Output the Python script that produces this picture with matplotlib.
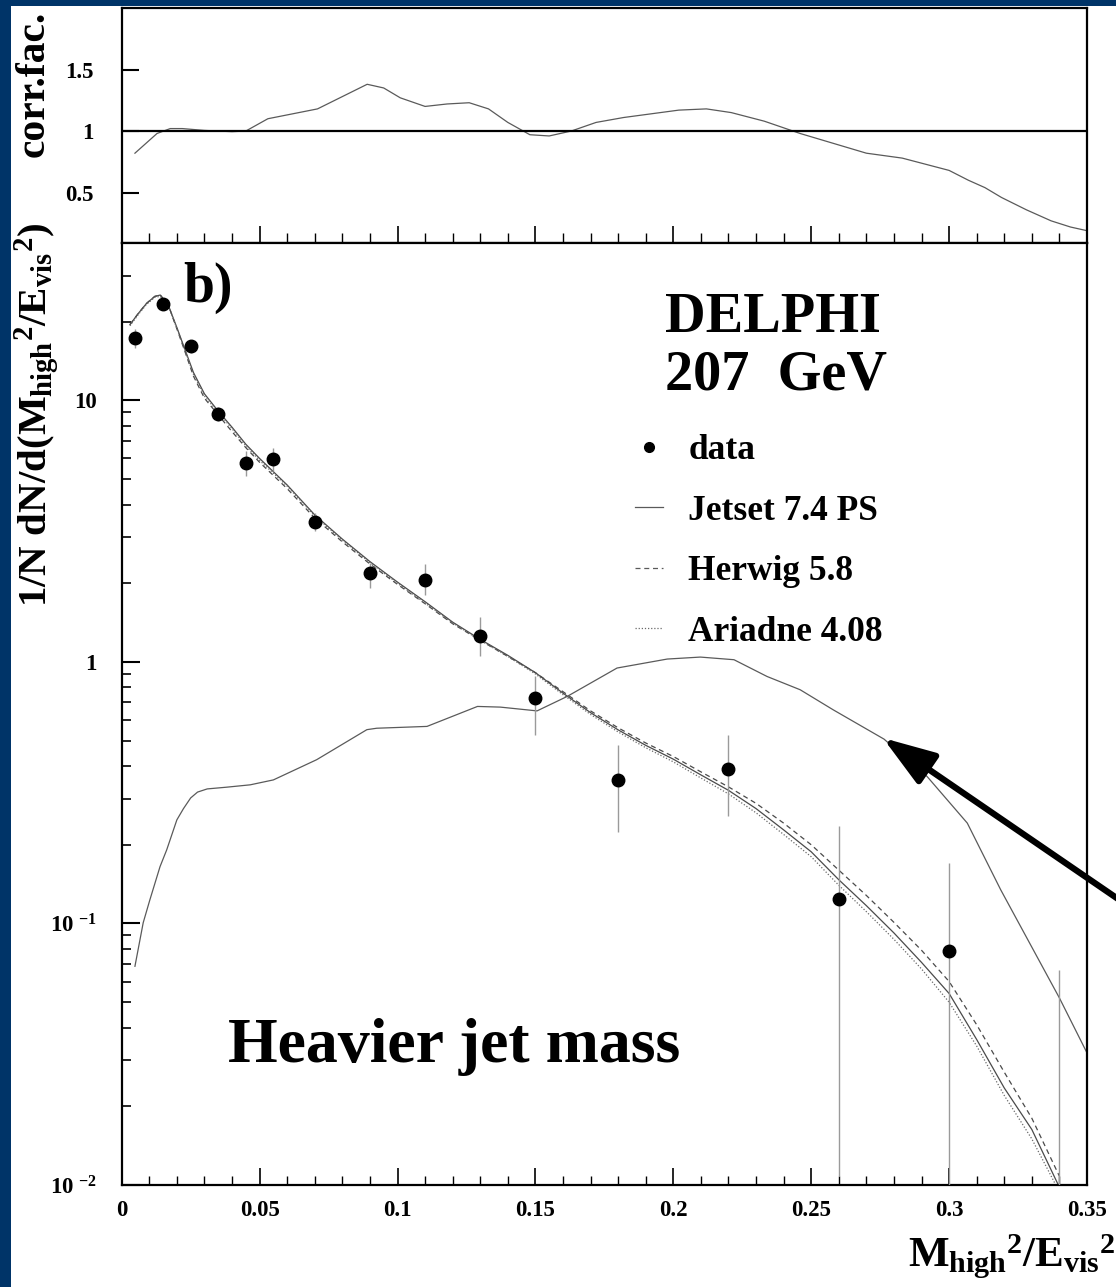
import matplotlib
matplotlib.use('Agg')
import matplotlib.pyplot as plt
import numpy as np
from matplotlib.lines import Line2D
from matplotlib.patches import Rectangle
from matplotlib.ticker import FixedLocator, MultipleLocator, LogLocator, NullFormatter, FixedFormatter

plt.rcParams['font.family'] = ['Liberation Serif', 'DejaVu Serif']
plt.rcParams['font.weight'] = 'bold'
plt.rcParams['axes.labelweight'] = 'bold'
plt.rcParams['mathtext.fontset'] = 'custom'
plt.rcParams['mathtext.rm'] = 'Liberation Serif:bold'
plt.rcParams['mathtext.it'] = 'Liberation Serif:bold'
plt.rcParams['mathtext.bf'] = 'Liberation Serif:bold'
plt.rcParams['mathtext.sf'] = 'Liberation Serif:bold'
plt.rcParams['axes.unicode_minus'] = False

# ---------------- data ----------------
# correction factor (top panel)
corr_x = [0.0048, 0.0128, 0.0176, 0.022, 0.03, 0.04, 0.045, 0.053, 0.062, 0.071, 0.08,
          0.089, 0.095, 0.101, 0.11, 0.118, 0.126, 0.133, 0.14, 0.148, 0.155, 0.163,
          0.172, 0.182, 0.192, 0.202, 0.212, 0.221, 0.233, 0.246, 0.258, 0.270, 0.283,
          0.300, 0.307, 0.313, 0.319, 0.328, 0.337, 0.344, 0.350]
corr_y = [0.82, 0.98, 1.02, 1.02, 1.005, 0.995, 1.0, 1.10, 1.14, 1.18, 1.28,
          1.38, 1.35, 1.27, 1.20, 1.22, 1.23, 1.18, 1.07, 0.97, 0.96, 1.00,
          1.07, 1.11, 1.14, 1.17, 1.18, 1.15, 1.08, 0.98, 0.90, 0.82, 0.78,
          0.68, 0.60, 0.54, 0.46, 0.36, 0.27, 0.22, 0.19]

# measured data (bottom panel)
data_x = [0.005, 0.015, 0.025, 0.035, 0.045, 0.055, 0.07, 0.09, 0.11, 0.13, 0.15,
          0.18, 0.22, 0.26, 0.30, 0.34]
data_y = [17.4, 23.4, 16.1, 8.87, 5.76, 5.98, 3.44, 2.19, 2.06, 1.26, 0.728,
          0.354, 0.391, 0.124, 0.0787, 0.003]
data_lo = [15.8, 22.3, 15.2, 8.36, 5.12, 5.35, 3.16, 1.92, 1.81, 1.05, 0.527,
           0.224, 0.257, 0.0108, 0.004, 0.001]
data_hi = [18.8, 24.5, 17.0, 9.46, 6.38, 6.60, 3.72, 2.39, 2.36, 1.49, 0.88,
           0.482, 0.527, 0.235, 0.170, 0.0665]

# Monte Carlo predictions
mc_x = [0.003, 0.006, 0.009, 0.012, 0.014, 0.017, 0.020, 0.023, 0.026, 0.030, 0.035,
        0.040, 0.045, 0.050, 0.060, 0.070, 0.080, 0.090, 0.100, 0.110, 0.120, 0.130,
        0.140, 0.150, 0.160, 0.170, 0.180, 0.190, 0.200, 0.210, 0.220, 0.230, 0.240,
        0.250, 0.260, 0.270, 0.280, 0.290, 0.300, 0.310, 0.320, 0.330, 0.340]
jetset = [19.5, 21.5, 23.5, 25.0, 25.3, 23.0, 19.0, 15.6, 12.8, 10.6, 9.1,
          7.9, 6.8, 6.0, 4.75, 3.65, 2.95, 2.42, 2.02, 1.70, 1.42, 1.22,
          1.06, 0.91, 0.76, 0.64, 0.55, 0.48, 0.425, 0.37, 0.323, 0.275, 0.228,
          0.188, 0.147, 0.117, 0.092, 0.071, 0.054, 0.036, 0.0235, 0.0163, 0.0098]
herwig = [19.5, 21.5, 23.5, 25.0, 25.3, 23.0, 18.8, 15.3, 12.4, 10.2, 8.8,
          7.6, 6.6, 5.8, 4.6, 3.55, 2.88, 2.37, 1.98, 1.67, 1.40, 1.21,
          1.05, 0.91, 0.77, 0.65, 0.56, 0.49, 0.435, 0.38, 0.333, 0.288, 0.242,
          0.200, 0.160, 0.128, 0.101, 0.079, 0.060, 0.041, 0.027, 0.0180, 0.0108]
ariadne = [19.3, 21.3, 23.3, 24.8, 25.0, 22.8, 18.9, 15.5, 12.6, 10.4, 9.0,
           7.8, 6.7, 5.9, 4.7, 3.62, 2.92, 2.40, 2.00, 1.68, 1.41, 1.21,
           1.05, 0.90, 0.75, 0.63, 0.54, 0.47, 0.415, 0.36, 0.313, 0.265, 0.219,
           0.180, 0.140, 0.111, 0.087, 0.067, 0.050, 0.034, 0.0220, 0.0150, 0.0094]

# additional curve in the lower panel
extra_x = [0.0048, 0.0078, 0.0102, 0.0139, 0.0163, 0.020, 0.0224, 0.025, 0.0275, 0.031,
           0.038, 0.0466, 0.055, 0.0707, 0.0889, 0.0925, 0.1107, 0.129, 0.1373, 0.1506,
           0.1615, 0.1796, 0.1978, 0.2098, 0.222, 0.234, 0.246, 0.258, 0.2764, 0.292,
           0.3066, 0.3187, 0.340, 0.350]
extra_y = [0.0686, 0.1007, 0.123, 0.165, 0.191, 0.249, 0.275, 0.302, 0.318, 0.327,
           0.332, 0.339, 0.354, 0.423, 0.551, 0.558, 0.567, 0.676, 0.672, 0.650,
           0.738, 0.948, 1.026, 1.044, 1.02, 0.88, 0.783, 0.656, 0.507, 0.365,
           0.242, 0.1346, 0.0519, 0.032]

xticks = [0, 0.05, 0.1, 0.15, 0.2, 0.25, 0.3, 0.35]
xticklabels = ['0', '0.05', '0.1', '0.15', '0.2', '0.25', '0.3', '0.35']
corr_ticks = [0.5, 1.0, 1.5]
corr_ticklabels = ['0.5', '1', '1.5']
log_ticks = [0.01, 0.1, 1, 10]
log_ticklabels = ['10 $^{-2}$', '10 $^{-1}$', '1', '10']

# ---------------- figure ----------------
W, H = 1116, 1287
fig = plt.figure(figsize=(W / 100, H / 100), dpi=100)
fig.patch.set_facecolor('#003468')
fig.add_artist(Rectangle((11 / W, 0), 1.0, 1 - 6 / H, transform=fig.transFigure,
                         facecolor='white', edgecolor='none', zorder=-10))

def px(x, y):
    return x / W, 1 - y / H

L, R = 121.7, 1087
ax1 = fig.add_axes([L / W, 1 - 243 / H, (R - L) / W, (243 - 8) / H])
ax2 = fig.add_axes([L / W, 1 - 1185 / H, (R - L) / W, (1185 - 243) / H])

for ax in (ax1, ax2):
    for s in ax.spines.values():
        s.set_linewidth(1.6)
    ax.set_xlim(0, 0.35)

# top panel
ax1.plot(corr_x, corr_y, color='#5a5a5a', lw=0.9)
ax1.axhline(1.0, color='black', lw=1.6)
ax1.set_ylim(0.09, 2.0)
ax1.yaxis.set_major_locator(FixedLocator(corr_ticks))
ax1.yaxis.set_major_formatter(FixedFormatter(corr_ticklabels))
ax1.tick_params(axis='y', which='major', direction='in', length=12, width=1.5,
                labelsize=16.5, pad=20, left=True, right=False)
ax1.tick_params(axis='y', which='minor', left=False, right=False)
ax1.xaxis.set_major_locator(FixedLocator(xticks))
ax1.xaxis.set_minor_locator(MultipleLocator(0.01))
ax1.tick_params(axis='x', which='major', direction='inout', length=24, width=1.2,
                labelbottom=False, top=False)
ax1.tick_params(axis='x', which='minor', direction='inout', length=14, width=1.0,
                top=False)
fig.text(*px(34, 84), 'corr.fac.', rotation=90, ha='center', va='center',
         fontsize=30, fontweight='bold')

# bottom panel
ax2.set_yscale('log')
ax2.set_ylim(0.01, 40)
ax2.plot(mc_x, jetset, color='#4a4a4a', lw=0.9, label='Jetset 7.4 PS')
ax2.plot(mc_x, herwig, color='#4a4a4a', lw=0.9, ls=(0, (4, 3)), label='Herwig 5.8')
ax2.plot(mc_x, ariadne, color='#6a6a6a', lw=0.9, ls=(0, (1, 1.5)), label='Ariadne 4.08')
ax2.plot(extra_x, extra_y, color='#5a5a5a', lw=0.9)
dy = np.array(data_y)
ax2.errorbar(data_x, data_y, yerr=[dy - np.array(data_lo), np.array(data_hi) - dy],
             fmt='o', color='black', ms=9, ecolor='#9a9a9a', elinewidth=1.0,
             capsize=0, zorder=5)

ax2.yaxis.set_major_locator(FixedLocator(log_ticks))
ax2.yaxis.set_major_formatter(FixedFormatter(log_ticklabels))
ax2.yaxis.set_minor_locator(LogLocator(base=10, subs=np.arange(2, 10)))
ax2.yaxis.set_minor_formatter(NullFormatter())
ax2.tick_params(axis='y', which='major', direction='in', length=13, width=1.5,
                labelsize=16.5, pad=18, right=False)
ax2.tick_params(axis='y', which='minor', direction='in', length=6.5, width=1.2, right=False)
ax2.xaxis.set_major_locator(FixedLocator(xticks))
ax2.xaxis.set_major_formatter(FixedFormatter(xticklabels))
ax2.xaxis.set_minor_locator(MultipleLocator(0.01))
ax2.tick_params(axis='x', which='major', direction='in', length=12, width=1.2,
                labelsize=16.5, pad=11, top=False)
ax2.tick_params(axis='x', which='minor', direction='in', length=6.5, width=1.0, top=False)

# y label of bottom panel
fig.text(*px(37, 415), r'1/N dN/d(${M_{high}}^{2}$/${E_{vis}}^{2}$)', rotation=90,
         ha='center', va='center', fontsize=29.5)
# x label
fig.text(*px(908, 1267), r'${M_{high}}^{2}$/${E_{vis}}^{2}$', ha='left', va='baseline',
         fontsize=31)

# annotations
fig.text(*px(183, 302), 'b)', fontsize=40, ha='left', va='baseline')
fig.text(*px(665, 332), 'DELPHI', fontsize=40.5, ha='left', va='baseline')
fig.text(*px(665, 390), '207  GeV', fontsize=40.5, ha='left', va='baseline')
fig.text(*px(228, 1062), 'Heavier jet mass', fontsize=46, ha='left', va='baseline')

handles = [Line2D([], [], marker='o', color='black', ls='none', ms=7),
           Line2D([], [], color='#5a5a5a', lw=0.9),
           Line2D([], [], color='#5a5a5a', lw=0.9, ls=(0, (4, 3))),
           Line2D([], [], color='#6a6a6a', lw=0.9, ls=(0, (1, 1.5)))]
labels = ['data', 'Jetset 7.4 PS', 'Herwig 5.8', 'Ariadne 4.08']
fig.legend(handles, labels, loc='upper left', bbox_to_anchor=px(635, 434),
           bbox_transform=fig.transFigure, frameon=False, fontsize=25.5,
           handlelength=0.8, handletextpad=0.7, labelspacing=0.78, borderpad=0,
           borderaxespad=0, numpoints=1)

# arrow
ax2.annotate('', xy=(0.276, 0.512), xycoords='data',
             xytext=(1140, H - 914), textcoords='figure pixels',
             arrowprops=dict(arrowstyle='-|>,head_length=1.6,head_width=0.55',
                             mutation_scale=20, lw=4.5, color='black',
                             shrinkA=0, shrinkB=0),
             annotation_clip=False)

fig.savefig('out.png', dpi=100, facecolor=fig.get_facecolor())
